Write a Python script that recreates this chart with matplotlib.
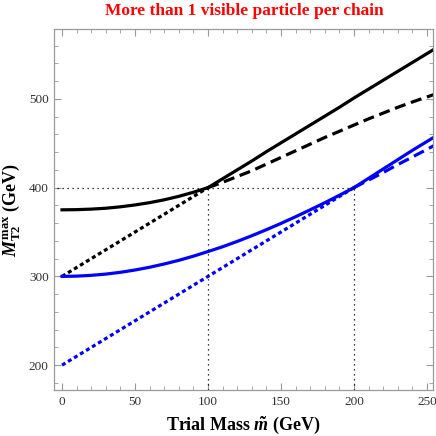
import numpy as np
import matplotlib
matplotlib.use("Agg")
import matplotlib.pyplot as plt
from matplotlib.ticker import MultipleLocator

plt.rcParams['font.family'] = ['Liberation Serif', 'DejaVu Serif']
plt.rcParams['mathtext.fontset'] = 'custom'
plt.rcParams['mathtext.rm'] = 'Liberation Serif:bold'
plt.rcParams['mathtext.it'] = 'Liberation Serif:italic:bold'
plt.rcParams['mathtext.bf'] = 'Liberation Serif:bold'

# trial mass grid (GeV)
m = [0, 10, 20, 30, 40, 50, 60, 70, 80, 90, 100, 110, 120, 130, 140, 150,
     160, 170, 180, 190, 200, 210, 220, 230, 240, 255]

# black: two branches, crossing at m = 100
black_a = [375, 375.2, 375.8, 376.8, 378.4, 380.5, 383.1, 386.3, 390.2, 394.8, 400,
           406, 412.5, 419, 426.5, 434, 441.5, 449, 456.5, 463.5, 470.5,
           477.5, 484, 490.5, 496.5, 505]
black_b = [300, 310, 320, 330, 340, 350, 360, 370, 380, 390, 400,
           410, 420, 430, 440.5, 450.5, 460.5, 470.5, 480.5, 490.5, 501,
           511, 521, 531, 541, 556]
# blue: two branches, crossing at m = 200
blue_a = [300, 300.3, 301.2, 302.6, 304.6, 307.2, 310.3, 314, 318.1, 322.8, 328,
          333.4, 339.4, 345.8, 352.6, 359.7, 367.2, 375, 383, 391.4, 400,
          408.5, 417, 426, 434.5, 447.5]
blue_b = [200, 210, 220, 230, 240, 250, 260, 270, 280, 290, 300,
          310, 320, 330, 340, 350, 360, 370, 380, 390, 400,
          410.5, 421, 431.5, 442, 457]

kink_black = 100
kink_blue = 200
kink_value = 400

m = np.array(m)
fig = plt.figure(figsize=(4.36, 4.36), dpi=100)
ax = fig.add_axes([0.1245, 0.1055, 0.8695, 0.8275])

lw = 2.3
dash = (0, (3.5, 1.8))
dot = (0, (1.25, 0.95))

lo = m <= kink_black
hi = m >= kink_black
ax.plot(m[lo], np.array(black_a)[lo], color='black', lw=lw)
ax.plot(m[hi], np.array(black_a)[hi], color='black', lw=lw, ls=dash)
ax.plot(m[lo], np.array(black_b)[lo], color='black', lw=lw, ls=dot)
ax.plot(m[hi], np.array(black_b)[hi], color='black', lw=lw)

lo = m <= kink_blue
hi = m >= kink_blue
ax.plot(m[lo], np.array(blue_a)[lo], color='#0000ff', lw=lw)
ax.plot(m[hi], np.array(blue_a)[hi], color='#0000ff', lw=lw, ls=dash)
ax.plot(m[lo], np.array(blue_b)[lo], color='#0000ff', lw=lw, ls=dot)
ax.plot(m[hi], np.array(blue_b)[hi], color='#0000ff', lw=lw)

# guide lines
ax.plot([-10, kink_blue], [kink_value, kink_value], color='black', lw=0.9, ls=(0, (1, 3)))
ax.plot([kink_black, kink_black], [150, kink_value], color='black', lw=0.9, ls=(0, (1, 3)))
ax.plot([kink_blue, kink_blue], [150, kink_value], color='black', lw=0.9, ls=(0, (1, 3)))

ax.set_xlim(-5.3, 254.4)
ax.set_ylim(172, 578.5)
ax.xaxis.set_major_locator(MultipleLocator(50))
ax.xaxis.set_minor_locator(MultipleLocator(10))
ax.yaxis.set_major_locator(MultipleLocator(100))
ax.yaxis.set_minor_locator(MultipleLocator(20))
ax.tick_params(which='both', direction='in', top=True, right=True, color='#999999',
               labelsize=9.5, labelcolor='#333333', pad=4)
ax.tick_params(which='major', length=5, width=0.8)
ax.tick_params(which='minor', length=3, width=0.6)
for s in ax.spines.values():
    s.set_color('#999999')
    s.set_linewidth(0.9)

ax.set_xlabel(r'Trial Mass $\tilde{m}$ (GeV)', fontsize=13, fontweight='bold', labelpad=5)
ax.set_ylabel(r'$M_{\mathrm{T2}}^{\mathrm{max}}$ (GeV)', fontsize=13, fontweight='bold', labelpad=4)
fig.suptitle('More than 1 visible particle per chain', color='#ff0000', fontsize=12.5,
             fontweight='bold', x=0.56, y=0.992)

fig.savefig('out.png', dpi=100)
